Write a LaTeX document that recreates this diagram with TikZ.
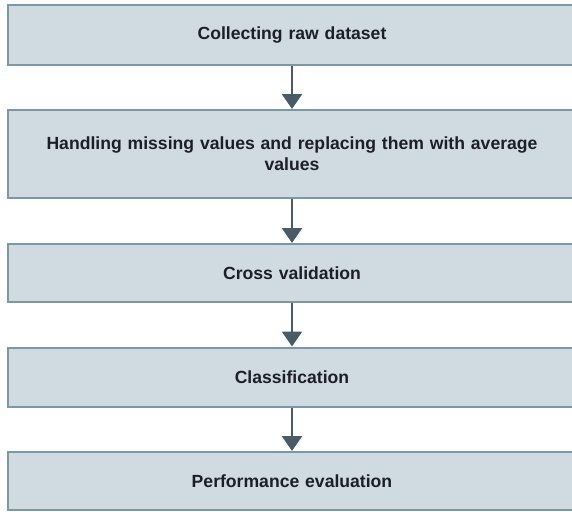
\documentclass[tikz,border=0pt]{standalone}
\usepackage{fontspec}
\setmainfont{Liberation Sans}
\usetikzlibrary{arrows.meta}
\definecolor{boxfill}{RGB}{207,219,224}
\definecolor{boxline}{RGB}{122,152,167}
\definecolor{arrowcol}{RGB}{72,92,104}
\definecolor{textcol}{RGB}{28,30,40}
\begin{document}
\begin{tikzpicture}[x=1pt,y=1pt,
    stepbox/.style={draw=boxline,line width=2pt,fill=boxfill,minimum width=568pt,
        text width=540pt,align=center,inner sep=0pt,text=textcol,
        font=\fontsize{17.6}{21}\selectfont\bfseries},
    flow/.style={draw=arrowcol,line width=2.5pt,-{Triangle[width=20pt,length=15pt]}}]
    \useasboundingbox (0,0) rectangle (572,-511);
    \node[stepbox,minimum height=60pt] (collect) at (292,-35) {Collecting raw dataset};
    \node[stepbox,minimum height=88pt] (missing) at (292,-154)
        {Handling missing values and replacing them with average\\values};
    \node[stepbox,minimum height=58pt] (cross) at (292,-273) {Cross validation};
    \node[stepbox,minimum height=59pt] (classif) at (292,-377) {Classification};
    \node[stepbox,minimum height=58pt] (perf) at (292,-481) {Performance evaluation};
    \foreach \a/\b in {collect/missing,missing/cross,cross/classif,classif/perf} {
        \draw[flow] (\a.south) -- (\b.north);
    }
\end{tikzpicture}
\end{document}
